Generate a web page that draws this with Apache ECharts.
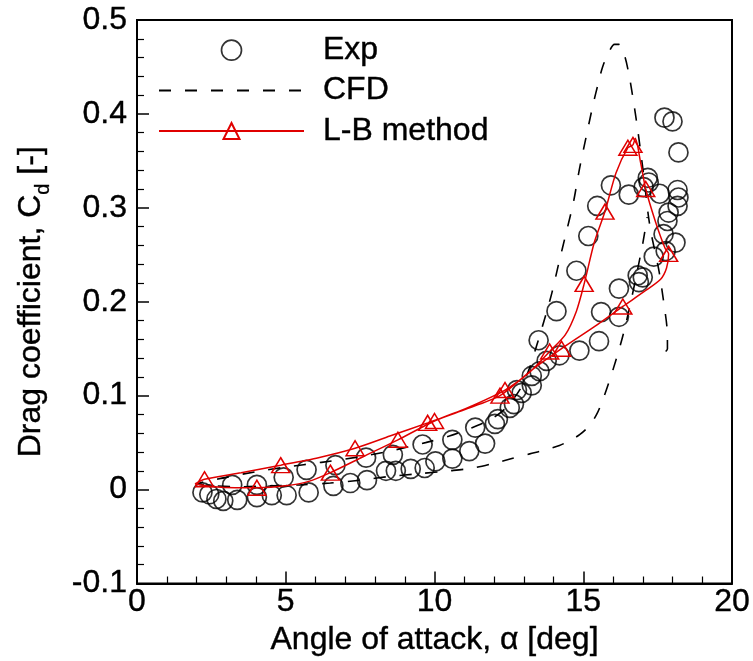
<!DOCTYPE html>
<html><head><meta charset="utf-8">
<script src="https://cdn.jsdelivr.net/npm/echarts@6/dist/echarts.min.js"></script>
<style>html,body{margin:0;padding:0;background:#fff}#c{width:753px;height:661px}</style>
</head><body><div id="c"></div>
<script>
// ---- data ----
const xTicks = [0, 5, 10, 15, 20];
const yTicks = [-0.1, 0, 0.1, 0.2, 0.3, 0.4, 0.5];

const expX = [2.20,2.43,2.67,2.90,3.37,4.03,4.53,5.03,5.77,6.60,7.17,7.73,8.37,8.70,9.20,9.67,10.03,10.60,11.17,11.70,
  14.20,14.87,15.53,16.20,16.87,17.00,16.83,17.37,17.77,18.10,17.70,17.83,17.87,18.17,18.20,18.17,18.20,18.00,17.73,
  17.57,17.20,17.17,17.03,16.53,16.20,15.93,15.60,15.47,15.17,14.77,14.10,13.77,13.53,13.50,13.27,13.27,12.93,12.77,
  12.67,12.53,12.13,12.03,11.37,10.60,9.60,8.60,7.70,6.67,5.70,4.93,4.03,3.20];
const expY = [-0.003,-0.005,-0.010,-0.012,-0.011,-0.008,-0.006,-0.006,-0.003,0.004,0.007,0.010,0.020,0.020,0.022,0.023,0.030,0.033,0.041,0.049,
  0.143,0.148,0.158,0.184,0.221,0.226,0.228,0.248,0.254,0.263,0.272,0.286,0.295,0.302,0.311,0.319,0.359,0.392,0.396,
  0.315,0.327,0.332,0.322,0.314,0.214,0.324,0.189,0.302,0.270,0.233,0.190,0.137,0.126,0.159,0.121,0.111,0.103,0.106,
  0.091,0.087,0.075,0.070,0.066,0.053,0.048,0.037,0.034,0.026,0.021,0.013,0.005,0.005];

const cfdX = [17.77,17.83,17.82,17.72,17.55,17.40,17.27,17.17,17.05,16.92,16.80,16.68,16.53,16.38,16.20,16.05,15.85,15.65,15.50,15.33,
  15.10,14.87,14.67,14.43,14.17,13.95,13.75,13.45,13.20,12.90,12.40,11.90,11.20,10.50,9.70,8.50,7.50,6.20,5.00,4.00,3.00,2.05,
  2.60,3.50,4.50,5.50,6.50,7.50,8.50,9.50,10.50,11.30,12.00,12.60,13.20,13.70,14.20,14.60,14.90,15.20,15.45,15.65,15.85,
  16.10,16.35,16.60,16.83,17.00,17.15];
const cfdY = [0.147,0.150,0.170,0.196,0.232,0.255,0.275,0.296,0.330,0.362,0.390,0.415,0.443,0.463,0.474,0.474,0.465,0.450,0.432,0.410,
  0.376,0.341,0.306,0.274,0.240,0.210,0.187,0.155,0.130,0.108,0.087,0.075,0.065,0.057,0.050,0.041,0.035,0.029,0.024,0.019,0.013,0.006,
  0.004,0.003,0.004,0.005,0.007,0.010,0.014,0.017,0.020,0.023,0.028,0.033,0.038,0.042,0.047,0.053,0.059,0.068,0.080,0.095,0.113,
  0.138,0.166,0.200,0.235,0.262,0.290];

const lbX = [1.95,2.60,3.30,4.03,5.00,5.80,6.50,7.60,8.77,10.00,11.10,12.37,13.20,13.87,14.40,14.77,15.03,15.37,15.73,16.10,
  16.50,16.67,16.75,16.93,17.10,17.43,17.75,17.87,17.80,17.60,17.10,16.33,15.40,14.27,13.30,12.20,11.00,9.77,8.50,7.33,
  6.10,4.83,3.50,2.27,1.95];
const lbY = [0.006,0.003,0.002,0.002,0.004,0.009,0.018,0.035,0.053,0.073,0.087,0.106,0.125,0.147,0.165,0.190,0.219,0.263,0.296,0.337,
  0.364,0.367,0.374,0.348,0.320,0.285,0.257,0.251,0.236,0.224,0.212,0.195,0.174,0.150,0.128,0.100,0.085,0.071,0.057,0.044,
  0.034,0.026,0.018,0.011,0.006];
const lbMark = [0,0,0,1,0,0,1,0,1,1,0,1,0,1,0,0,1,0,1,0,
  1,1,0,0,1,0,0,1,0,0,0,1,0,1,0,1,0,1,0,1,
  0,1,0,1,0];

// ---- chart ----
const FONT = 'Liberation Sans, Arial, Helvetica, sans-serif';
const RED = '#e00000';
const FS = 32;
const txt = {fontSize: FS, fontFamily: FONT, color: '#000', textBorderColor: '#000', textBorderWidth: 0.4};
const zip = (a, b) => a.map((v, i) => [v, b[i]]);

const chart = echarts.init(document.getElementById('c'), null, {renderer: 'canvas'});
chart.setOption({
  animation: false,
  backgroundColor: '#fff',
  grid: {left: 137, right: 16, top: 20, bottom: 74, show: true, borderColor: '#000', borderWidth: 2, backgroundColor: 'transparent'},
  legend: {
    orient: 'vertical', left: 153, top: 29,
    itemWidth: 145, itemHeight: 20, itemGap: 8,
    data: [
      {name: 'Exp', itemStyle: {color: 'rgba(0,0,0,0)', borderColor: '#000', borderWidth: 1.7}},
      {name: 'CFD'},
      {name: 'L-B method'}
    ],
    textStyle: Object.assign({}, txt, {lineHeight: 30, padding: [0, 0, 0, 14]})
  },
  xAxis: {
    type: 'value', min: xTicks[0], max: xTicks[xTicks.length - 1], interval: 5,
    name: 'Angle of attack, α [deg]', nameLocation: 'middle', nameGap: 31,
    nameTextStyle: Object.assign({}, txt, {verticalAlign: 'top'}),
    axisLine: {show: true, onZero: false, lineStyle: {color: '#000', width: 2}},
    axisTick: {show: true, inside: true, length: 12, lineStyle: {color: '#000', width: 1.5}},
    minorTick: {show: true, splitNumber: 5, length: 7, lineStyle: {color: '#000', width: 1.2}},
    axisLabel: Object.assign({}, txt, {margin: 3}),
    splitLine: {show: false}
  },
  yAxis: {
    type: 'value', min: yTicks[0], max: yTicks[yTicks.length - 1], interval: 0.1,
    name: 'Drag coefficient, C{sub|d} [-]', nameLocation: 'middle', nameGap: 90, nameRotate: 90,
    nameTextStyle: Object.assign({}, txt, {
      rich: {sub: {fontSize: 20, fontFamily: FONT, color: '#000', textBorderColor: '#000', textBorderWidth: 0.3,
        verticalAlign: 'bottom', padding: [0, 0, -6, 0]}}}),
    axisLine: {show: true, onZero: false, lineStyle: {color: '#000', width: 2}},
    axisTick: {show: true, inside: true, length: 12, lineStyle: {color: '#000', width: 1.5}},
    minorTick: {show: true, splitNumber: 5, length: 7, lineStyle: {color: '#000', width: 1.2}},
    axisLabel: Object.assign({}, txt, {margin: 10,
      formatter: v => (Math.abs(v) < 1e-9 ? '0' : v.toFixed(1))}),
    splitLine: {show: false}
  },
  series: [
    {
      name: 'Exp', type: 'scatter', symbol: 'circle', symbolSize: 19,
      itemStyle: {color: 'rgba(0,0,0,0)', borderColor: '#000', borderWidth: 1.7},
      data: zip(expX, expY), z: 2
    },
    {
      name: 'CFD', type: 'line', symbol: 'none', smooth: 0.3,
      lineStyle: {color: '#000', width: 1.6, type: [12, 14]},
      itemStyle: {color: 'rgba(0,0,0,0)', borderColor: 'rgba(0,0,0,0)', borderWidth: 0},
      data: zip(cfdX, cfdY), z: 3
    },
    {
      name: 'L-B method', type: 'line', symbol: 'triangle', symbolSize: [18, 15], smooth: 0.25,
      lineStyle: {color: RED, width: 1.5},
      itemStyle: {color: 'rgba(0,0,0,0)', borderColor: RED, borderWidth: 1.5},
      data: lbX.map((x, i) => ({value: [x, lbY[i]], symbol: lbMark[i] ? 'triangle' : 'none'})), z: 4
    }
  ]
});
</script>
</body></html>
